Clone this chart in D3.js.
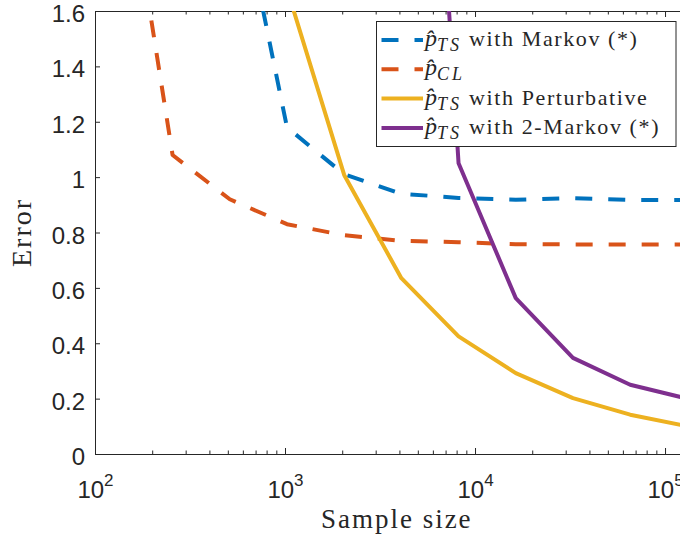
<!DOCTYPE html>
<html>
<head>
<meta charset="utf-8">
<script src="https://cdn.jsdelivr.net/npm/d3@7"></script>
<style>
  body { margin: 0; background: #fff; }
  svg { display: block; overflow: hidden; }
  .axis text { font-family: 'Liberation Sans', Arial, sans-serif; font-size: 24px; fill: #262626; }
  .axis path, .axis line { stroke: #262626; stroke-width: 1; }
  .serif { font-family: 'Liberation Serif', 'Times New Roman', serif; fill: #262626; }
</style>
</head>
<body>
<div id="chart"></div>
<script>
/* Data */
const sampleSizes = [128, 256, 512, 1024, 2048, 4096, 8192, 16384, 32768, 65536, 131072];
const errMarkov = [null, null, 2.19, 1.18, 1.01, 0.94, 0.925, 0.918, 0.924, 0.918, 0.917];
const errCL = [2.39, 1.08, 0.92, 0.83, 0.79, 0.77, 0.765, 0.758, 0.757, 0.757, 0.757];
const errPerturbative = [null, null, null, 1.68, 1.008, 0.635, 0.425, 0.292, 0.202, 0.142, 0.1];
const err2Markov = [null, null, null, null, null, 4.35, 1.05, 0.563, 0.347, 0.25, 0.2];

const seriesNames = ['Markov', 'CL', 'Perturbative', '2-Markov'];
const legendSubs = ['TS', 'CL', 'TS', 'TS'];
const legendRest = [' with Markov (*)', '', ' with Perturbative', ' with 2-Markov (*)'];
const seriesColors = ['#0072BD', '#D95319', '#EDB120', '#7E2F8E'];
const seriesDashed = [true, true, false, false];
const seriesValues = [errMarkov, errCL, errPerturbative, err2Markov];

const yTicks = [0, 0.2, 0.4, 0.6, 0.8, 1, 1.2, 1.4, 1.6];
const xTicks = [1e2, 1e3, 1e4, 1e5];
const xExps = ['2', '3', '4', '5'];

const width = 680;
const height = 539;
const plot = { left: 95, top: 11, bottom: 454, right: 698.5 };

const x = d3.scaleLog().domain([100, 150000]).range([plot.left, plot.right]);
const y = d3.scaleLinear().domain([0, 1.6]).range([plot.bottom, plot.top]);

// minor ticks 2..9 x 10^k
const minorTicks = [];
[100, 1000, 10000, 100000].forEach((p) => {
  for (let k = 2; k <= 9; k++) if (p * k <= 150000) minorTicks.push(p * k);
});

const svg = d3
  .select('#chart')
  .append('svg')
  .attr('width', width)
  .attr('height', height);

svg.append('defs')
  .append('clipPath')
  .attr('id', 'plot-clip')
  .append('rect')
  .attr('x', plot.left)
  .attr('y', plot.top)
  .attr('width', plot.right - plot.left)
  .attr('height', plot.bottom - plot.top);

// Axes (MATLAB style, ticks inside)
const bottomAxis = svg.append('g')
  .attr('class', 'axis')
  .attr('transform', `translate(0,${plot.bottom})`)
  .call(d3.axisBottom(x).tickValues(xTicks).tickSize(-6).tickSizeOuter(0).tickFormat(''));

bottomAxis.selectAll('.tick text')
  .attr('dy', null)
  .attr('y', 44)
  .each(function (d, i) {
    const t = d3.select(this);
    t.append('tspan').text('10');
    t.append('tspan').attr('dy', -12).style('font-size', '17px').text(xExps[i]);
  });

svg.append('g')
  .attr('class', 'axis')
  .attr('transform', `translate(0,${plot.bottom})`)
  .call(d3.axisBottom(x).tickValues(minorTicks).tickSize(-3.5).tickSizeOuter(0).tickFormat(''))
  .select('.domain').remove();

svg.append('g')
  .attr('class', 'axis')
  .attr('transform', `translate(0,${plot.top})`)
  .call(d3.axisTop(x).tickValues(xTicks).tickSize(-6).tickSizeOuter(0).tickFormat(''));

svg.append('g')
  .attr('class', 'axis')
  .attr('transform', `translate(0,${plot.top})`)
  .call(d3.axisTop(x).tickValues(minorTicks).tickSize(-3.5).tickSizeOuter(0).tickFormat(''))
  .select('.domain').remove();

const leftAxis = svg.append('g')
  .attr('class', 'axis')
  .attr('transform', `translate(${plot.left},0)`)
  .call(d3.axisLeft(y).tickValues(yTicks).tickSize(-5).tickSizeOuter(0).tickPadding(10).tickFormat(d3.format('~g')));

// MATLAB puts the labels a little under the tick
leftAxis.selectAll('.tick text').attr('dy', '0.44em');

svg.append('g')
  .attr('class', 'axis')
  .attr('transform', `translate(${plot.right},0)`)
  .call(d3.axisRight(y).tickValues(yTicks).tickSize(-5).tickSizeOuter(0).tickFormat(''));

// Lines
const line = d3.line()
  .defined((d) => d.v !== null)
  .x((d) => x(d.n))
  .y((d) => y(d.v));

const linesGroup = svg.append('g').attr('clip-path', 'url(#plot-clip)');

seriesValues.forEach((vals, i) => {
  const pts = sampleSizes.map((n, j) => ({ n: n, v: vals[j] }));
  linesGroup.append('path')
    .datum(pts)
    .attr('d', line)
    .attr('fill', 'none')
    .attr('stroke', seriesColors[i])
    .attr('stroke-width', 4)
    .attr('stroke-linejoin', 'round')
    .attr('stroke-dasharray', seriesDashed[i] ? '17,16' : null);
});

// Legend
const legend = svg.append('g').attr('class', 'legend');

legend.append('rect')
  .attr('x', 376.5)
  .attr('y', 21.5)
  .attr('width', 299.5)
  .attr('height', 125)
  .attr('fill', '#fff')
  .attr('stroke', '#262626')
  .attr('stroke-width', 1);

seriesNames.forEach((name, i) => {
  const cy = 40 + i * 29.3;
  legend.append('line')
    .attr('x1', 381.5)
    .attr('x2', 423)
    .attr('y1', cy)
    .attr('y2', cy)
    .attr('stroke', seriesColors[i])
    .attr('stroke-width', 4)
    .attr('stroke-dasharray', seriesDashed[i] ? '17,16' : null);

  const t = legend.append('text')
    .attr('class', 'serif')
    .attr('x', 425)
    .attr('y', cy + 6)
    .style('font-size', '22px');
  t.append('tspan').style('font-style', 'italic').style('font-size', '24px').text('p\u0302');
  t.append('tspan')
    .style('font-style', 'italic')
    .style('font-size', '18px')
    .style('letter-spacing', '3px')
    .attr('dy', 5)
    .text(legendSubs[i]);
  t.append('tspan')
    .attr('dy', -5)
    .style('letter-spacing', '1.6px')
    .text(legendRest[i]);
});

// Axis labels
svg.append('text')
  .attr('class', 'serif')
  .attr('x', (plot.left + plot.right) / 2)
  .attr('y', 528)
  .attr('text-anchor', 'middle')
  .style('font-size', '27px')
  .style('letter-spacing', '2px')
  .text('Sample size');

svg.append('text')
  .attr('class', 'serif')
  .attr('transform', `translate(31,${(plot.top + plot.bottom) / 2}) rotate(-90)`)
  .attr('text-anchor', 'middle')
  .style('font-size', '28px')
  .style('letter-spacing', '2px')
  .text('Error');
</script>
</body>
</html>
